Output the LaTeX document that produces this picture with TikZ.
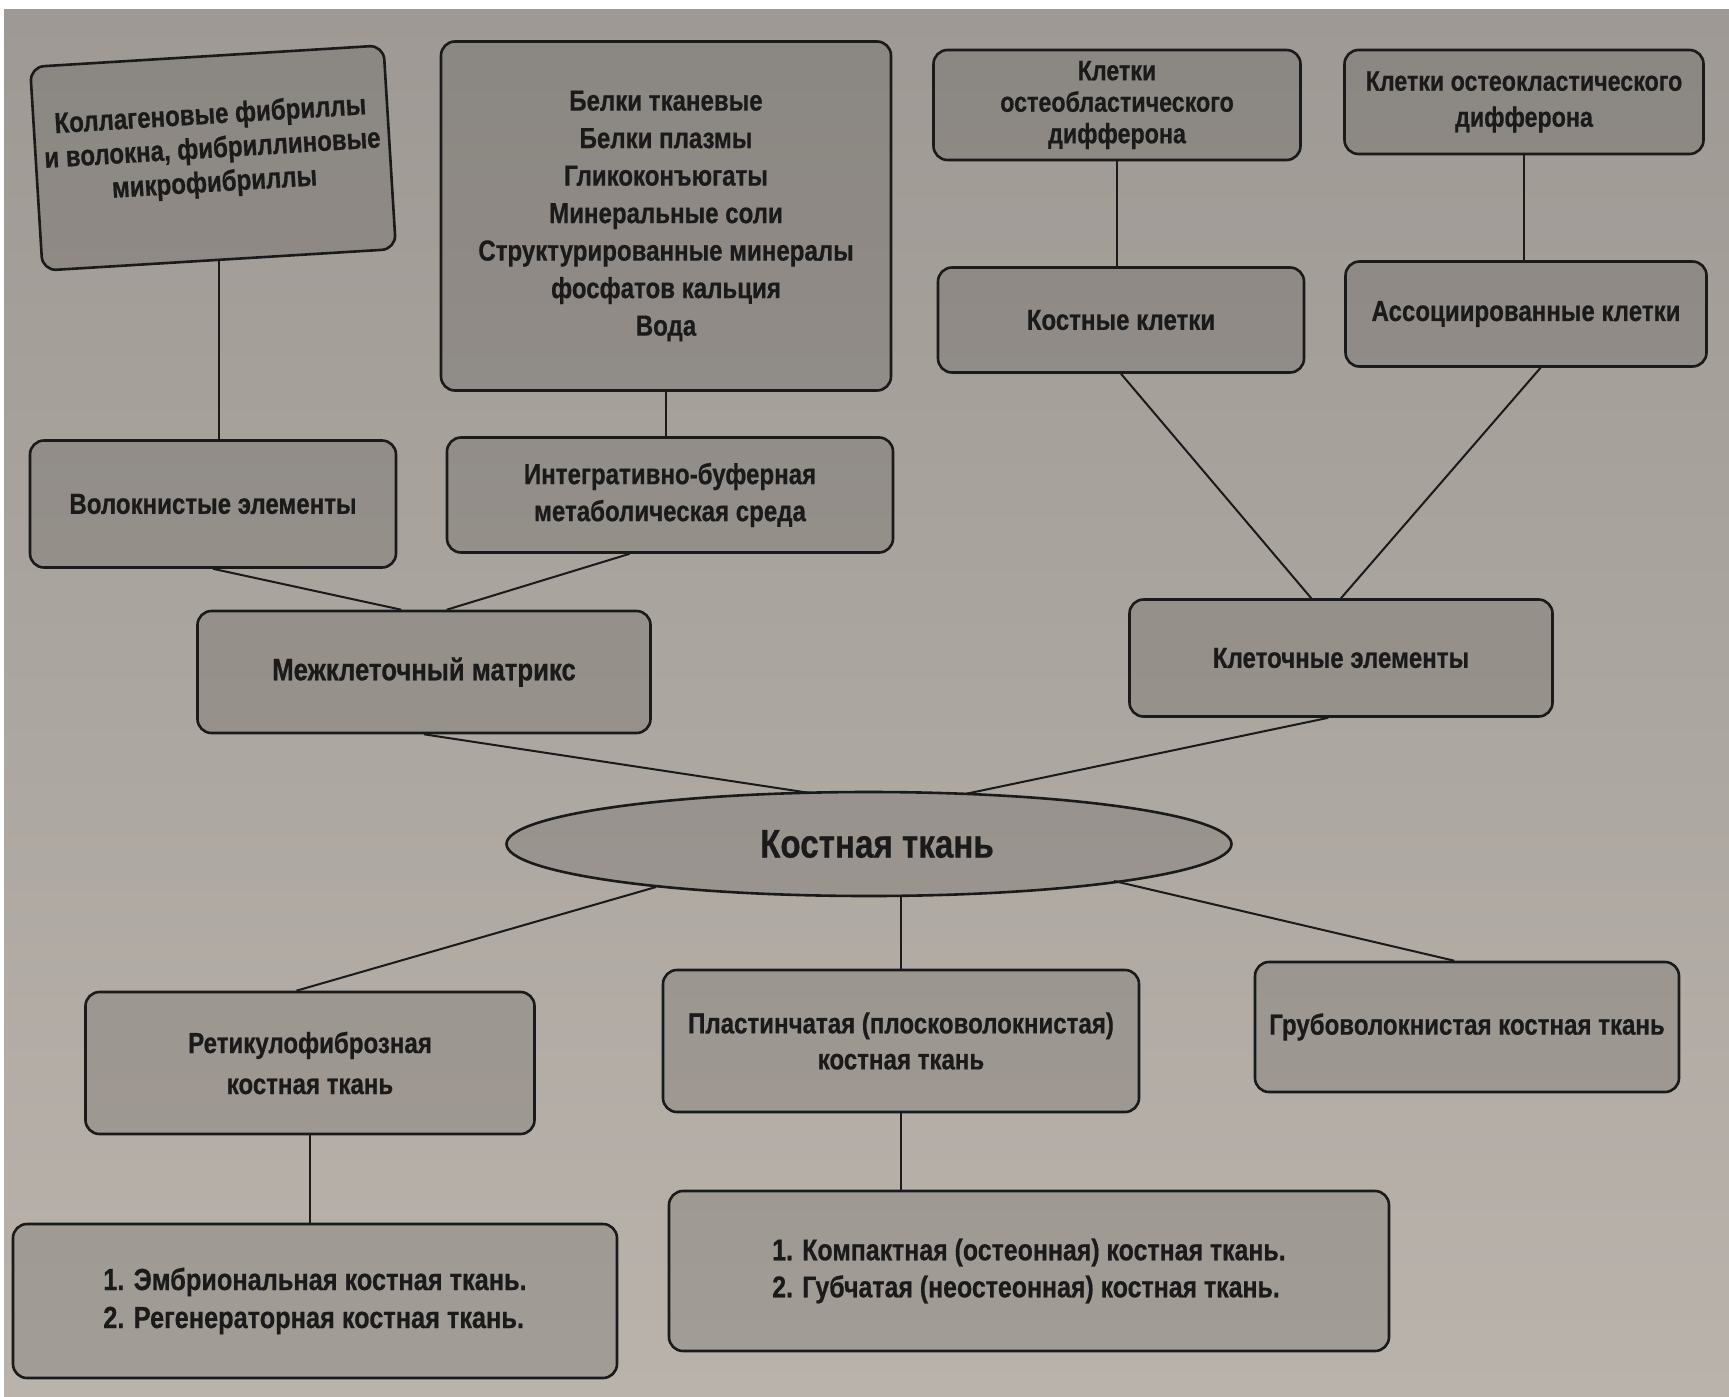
\documentclass[tikz,border=0pt]{standalone}
\usepackage{fontspec}
\setmainfont[FakeStretch=0.83, BoldFeatures={FakeBold=0.6}]{Liberation Sans}
\usetikzlibrary{calc,shapes.geometric}
\definecolor{bgtop}{HTML}{9E9994}
\definecolor{bgbot}{HTML}{BAB3AC}
\definecolor{ink}{HTML}{1A1A1A}
\begin{document}
\begin{tikzpicture}[x=1pt,y=-1pt,
  box/.style={draw=ink, line width=2.6pt, rounded corners=14pt, fill=black,
    fill opacity=0.12, draw opacity=1, text opacity=1, text=ink, align=center,
    inner sep=0pt, font=\fontsize{29}{35}\selectfont\bfseries},
  oval/.style={box, ellipse, rounded corners=0pt, font=\fontsize{40}{46}\selectfont\bfseries},
  link/.style={draw=ink, line width=2pt}]
\useasboundingbox (0,0) rectangle (1729,1397);
\fill[white] (0,0) rectangle (1729,1397);
\shade[top color=bgtop, bottom color=bgbot] (4,10) rectangle (1729,1397);

\node[box, rotate=3.5, minimum width=354pt, minimum height=204pt, font=\fontsize{29}{34}\selectfont\bfseries] (coll) at (213,158)
  {Коллагеновые фибриллы\\и волокна, фибриллиновые\\микрофибриллы\rule[-22pt]{0pt}{22pt}};
\node[box, minimum width=450pt, minimum height=349pt, font=\fontsize{29}{37.5}\selectfont\bfseries] (bel) at (666,216)
  {Белки тканевые\\Белки плазмы\\Гликоконъюгаты\\Минеральные соли\\Структурированные минералы\\фосфатов кальция\\Вода};
\node[box, minimum width=367pt, minimum height=110pt, font=\fontsize{28}{31.5}\selectfont\bfseries] (osteob) at (1117,105)
  {Клетки\\остеобластического\\дифферона};
\node[box, minimum width=359pt, minimum height=104pt, font=\fontsize{28}{36}\selectfont\bfseries] (osteok) at (1524,102)
  {Клетки остеокластического\\дифферона};
\node[box, minimum width=366pt, minimum height=105pt] (kostkl) at (1121,320) {Костные клетки};
\node[box, minimum width=361pt, minimum height=105pt] (assoc) at (1526,314) {Ассоциированные клетки};
\node[box, minimum width=366pt, minimum height=127pt] (volok) at (213,504) {Волокнистые элементы};
\node[box, minimum width=446pt, minimum height=115pt, font=\fontsize{29}{37}\selectfont\bfseries] (integr) at (670,495)
  {Интегративно-буферная\\метаболическая среда};
\node[box, minimum width=453pt, minimum height=122pt, font=\fontsize{31}{36}\selectfont\bfseries] (mezh) at (424,672) {Межклеточный матрикс};
\node[box, minimum width=423pt, minimum height=117pt] (klet) at (1341,658) {Клеточные элементы};
\node[oval, minimum width=725pt, minimum height=104pt] (kt) at (869,844) {\hspace*{16pt}Костная ткань};
\node[box, minimum width=449pt, minimum height=142pt, font=\fontsize{29}{41}\selectfont\bfseries] (retik) at (310,1063)
  {Ретикулофиброзная\\костная ткань};
\node[box, minimum width=476pt, minimum height=142pt, font=\fontsize{29}{36}\selectfont\bfseries] (plast) at (901,1041)
  {Пластинчатая (плосковолокнистая)\\костная ткань};
\node[box, minimum width=424pt, minimum height=130pt] (grub) at (1467,1027) {Грубоволокнистая костная ткань};
\node[box, align=left, minimum width=604pt, minimum height=154pt, font=\fontsize{30.5}{38}\selectfont\bfseries] (bl) at (315,1301)
  {1. Эмбриональная костная ткань.\\2. Регенераторная костная ткань.};
\node[box, align=left, minimum width=720pt, minimum height=160pt, font=\fontsize{30}{37}\selectfont\bfseries] (bm) at (1029,1271)
  {1. Компактная (остеонная) костная ткань.\\2. Губчатая (неостеонная) костная ткань.};

% connectors
\draw[link] (coll.south) -- (coll.south |- volok.north);
\draw[link] (bel.south) -- (bel.south |- integr.north);
\draw[link] (osteob.south) -- (osteob.south |- kostkl.north);
\draw[link] (osteok.south) -- (osteok.south |- assoc.north);
\draw[link] (volok.south) -- ($(mezh.north west)!0.45!(mezh.north east)$);
\draw[link] ($(integr.south west)!0.41!(integr.south east)$) -- ($(mezh.north west)!0.55!(mezh.north east)$);
\draw[link] (kostkl.south) -- ($(klet.north west)!0.43!(klet.north east)$);
\draw[link] ($(assoc.south west)!0.54!(assoc.south east)$) -- ($(klet.north west)!0.50!(klet.north east)$);
\draw[link] (mezh.south) -- ($(kt.center)+(-59,-51)$);
\draw[link] ($(klet.south west)!0.47!(klet.south east)$) -- ($(kt.center)+(96,-50)$);
\draw[link] ($(kt.center)+(-213,43)$) -- ($(retik.north west)!0.47!(retik.north east)$);
\draw[link] (plast.north |- kt.south) -- (plast.north);
\draw[link] ($(kt.center)+(245,37)$) -- ($(grub.north west)!0.47!(grub.north east)$);
\draw[link] (retik.south) -- (retik.south |- bl.north);
\draw[link] (plast.south) -- (plast.south |- bm.north);
\end{tikzpicture}
\end{document}
